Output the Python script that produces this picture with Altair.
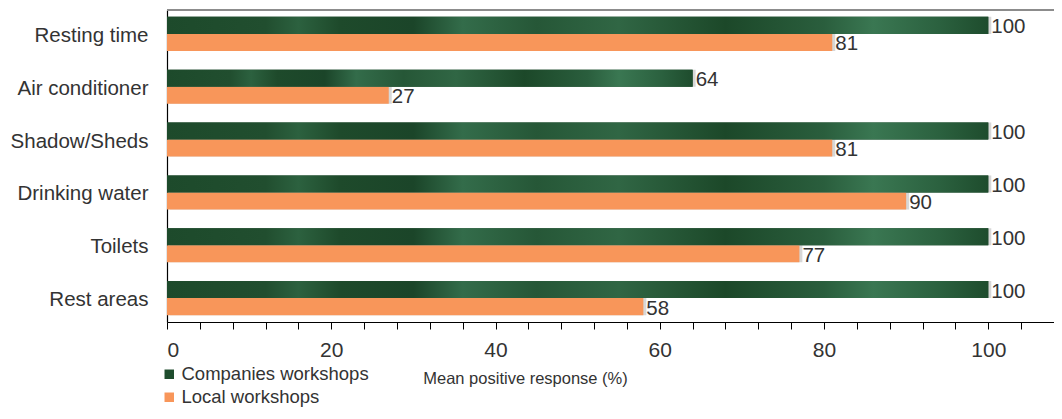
import altair as alt
import pandas as pd

categories = ["Resting time", "Air conditioner\u00a0", "Shadow/Sheds", "Drinking water\u00a0", "Toilets", "Rest areas"]
companies = [100, 64, 100, 100, 100, 100]
local = [81, 27, 81, 90, 77, 58]
series = ["Companies workshops", "Local workshops"]
colors = ["#1f4d2e", "#F8965A"]

rows = []
for c, a, b in zip(categories, companies, local):
    rows.append({"cat": c, "series": series[0], "value": a})
    rows.append({"cat": c, "series": series[1], "value": b})
df = pd.DataFrame(rows)

W, H = 887, 312
FONT = "Liberation Sans"

y_enc = alt.Y("cat:N", sort=categories, title=None,
              scale=alt.Scale(paddingInner=0.356, paddingOuter=0.13),
              axis=alt.Axis(ticks=False, labelPadding=19, labelFontSize=20.5,
                            labelColor="#333333", labelFont=FONT, labelOffset=2,
                            domainColor="#000000", domainWidth=1.2, labelLimit=300))
yoff = alt.YOffset("series:N", sort=series, scale=alt.Scale(paddingInner=0, paddingOuter=0))
x_enc = alt.X("value:Q", scale=alt.Scale(domain=[0, 108], nice=False),
              title="Mean positive response (%)",
              axis=alt.Axis(values=list(range(0, 109, 4)),
                            labelExpr="datum.value % 20 == 0 ? datum.label : ''",
                            grid=False, tickSize=7, tickColor="#000000", domainColor="#000000",
                            domainWidth=1.2, labelFontSize=21, labelColor="#333333", labelFont=FONT,
                            labelPadding=10, titleFontSize=16.5, titleFontWeight="normal",
                            titleColor="#333333", titleFont=FONT, titleX=358, titleY=56,
                            titleAlign="center", titleBaseline="middle"))

base = alt.Chart(df)

shadow = base.mark_bar(color="#bdbdbd", opacity=0.6, yOffset=4, xOffset=3).encode(
    x=x_enc, y=y_enc, yOffset=yoff)

bars = base.mark_bar().encode(
    x=x_enc, y=y_enc, yOffset=yoff,
    color=alt.Color("series:N", sort=series,
                    scale=alt.Scale(domain=series, range=colors),
                    legend=alt.Legend(title=None, orient="none", legendX=-7, legendY=355,
                                      direction="vertical", symbolType="square",
                                      symbolSize=90, labelFontSize=18.5, labelColor="#333333",
                                      labelFont=FONT, rowPadding=4, labelOffset=3, padding=0,
                                      symbolStrokeWidth=0, labelLimit=400)))

green_grad = alt.Gradient(
    gradient="linear", x1=0, x2=1, y1=0, y2=0,
    stops=[
        alt.GradientStop(offset=0.0, color="#1d4a2b"),
        alt.GradientStop(offset=0.12, color="#214e2f"),
        alt.GradientStop(offset=0.16, color="#2c613f"),
        alt.GradientStop(offset=0.21, color="#1e4a2b"),
        alt.GradientStop(offset=0.30, color="#1b4529"),
        alt.GradientStop(offset=0.36, color="#336c4a"),
        alt.GradientStop(offset=0.45, color="#265737"),
        alt.GradientStop(offset=0.55, color="#306644"),
        alt.GradientStop(offset=0.68, color="#1c4829"),
        alt.GradientStop(offset=0.80, color="#2a5e3d"),
        alt.GradientStop(offset=0.86, color="#3a7752"),
        alt.GradientStop(offset=0.94, color="#2b613f"),
        alt.GradientStop(offset=1.0, color="#1e4c2d"),
    ])

green = base.transform_filter(alt.datum.series == series[0]).mark_bar(color=green_grad).encode(
    x=x_enc, y=y_enc, yOffset=yoff)

labels = base.mark_text(align="left", baseline="middle", dx=3, dy=2, fontSize=20.5,
                        color="#333333", font=FONT).encode(
    x=x_enc, y=y_enc, yOffset=yoff, text=alt.Text("value:Q"))

top_rule = alt.Chart(df).mark_rule(color="#8c8c8c", strokeWidth=1.2).encode(
    x=alt.value(0), x2=alt.value(W), y=alt.value(0))

chart = alt.layer(shadow, bars, green, labels, top_rule).properties(
    width=W, height=H,
    autosize=alt.AutoSizeParams(type="none"),
    padding={"left": 159, "top": 2, "right": 0, "bottom": 89},
).configure_view(stroke=None)

chart.save("out.html", embed_options={"renderer": "svg", "actions": False})
